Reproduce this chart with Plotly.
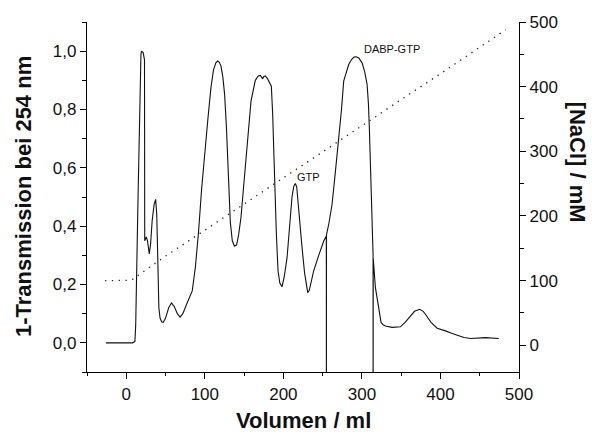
import plotly.graph_objects as go

# UV trace (1-Transmission at 254 nm) vs volume
volume = [-26, 8, 11, 12, 15, 18, 18.7, 19.5, 21.5, 23.2, 23.5, 25.5, 27, 29.3, 31, 33, 35.5, 37.4,
          38.8, 40, 41.5, 43, 45, 47, 50, 54, 57.5, 61, 65, 68.5, 72, 78, 84, 88, 92, 96, 100,
          104, 107.8, 111, 114, 116.3, 118.5, 120.6, 123, 125.2, 127.5, 130.4, 132.5, 135, 137.6,
          140.5, 143, 146, 150, 153.7, 158.8, 164.3, 168, 170.7, 172.5, 173.7, 175, 177, 180, 183,
          184.7, 186.4, 188.5, 189.6, 189.8, 190.1, 191, 193.2, 195.5, 198.3, 201, 204.7, 208, 211,
          213.3, 215.3, 217, 218.2, 220, 221, 223.8, 227, 229.5, 231, 233, 235.5, 238.6, 245, 251.4,
          254.7, 254.8, 254.9, 258, 262, 266, 270.5, 274, 276.8, 280, 283.2, 287, 290, 292.6, 296,
          300.2, 303.5, 306.6, 308.3, 309.6, 311.5, 313, 314.2, 314.3, 314.4, 317.2, 320.2, 322.5,
          324.4, 327, 330, 338.4, 349, 355, 361.8, 367, 373.6, 378, 380.9, 388, 395.8, 400, 406.4,
          415, 423.3, 430, 438.2, 457.3, 474.3]
absorbance = [0.0, 0.0, 0.005, 0.06, 0.5, 0.93, 0.99, 1.0, 0.995, 0.97, 0.35, 0.363, 0.35, 0.305,
              0.34, 0.42, 0.475, 0.492, 0.44, 0.3, 0.12, 0.085, 0.072, 0.07, 0.085, 0.12, 0.137,
              0.125, 0.1, 0.088, 0.1, 0.14, 0.178, 0.26, 0.38, 0.53, 0.66, 0.77, 0.875, 0.935, 0.96,
              0.966, 0.962, 0.949, 0.91, 0.852, 0.74, 0.555, 0.412, 0.35, 0.332, 0.335, 0.37, 0.429,
              0.56, 0.692, 0.829, 0.9, 0.915, 0.917, 0.91, 0.905, 0.913, 0.915, 0.905, 0.89, 0.88,
              0.783, 0.555, 0.48, 0.43, 0.47, 0.38, 0.247, 0.205, 0.192, 0.225, 0.292, 0.4, 0.5,
              0.537, 0.546, 0.535, 0.498, 0.42, 0.41, 0.326, 0.24, 0.19, 0.172, 0.18, 0.21, 0.247,
              0.3, 0.349, 0.366, -0.3, 0.37, 0.41, 0.475, 0.58, 0.692, 0.8, 0.897, 0.93, 0.954,
              0.972, 0.98, 0.981, 0.977, 0.96, 0.93, 0.886, 0.82, 0.726, 0.55, 0.384, 0.304, -0.3,
              0.29, 0.189, 0.132, 0.09, 0.07, 0.062, 0.058, 0.053, 0.055, 0.07, 0.092, 0.108, 0.115,
              0.108, 0.098, 0.07, 0.05, 0.047, 0.041, 0.032, 0.024, 0.018, 0.015, 0.018, 0.015]

# NaCl gradient (right axis)
nacl_volume = [-27, 0, 3, 8, 50, 100, 150, 200, 250, 300, 350, 400, 450, 483]
nacl_mM = [100, 100, 100.5, 102, 138, 178, 219, 259, 299, 340, 380, 420, 461, 488]

# peak labels
label_text = ["GTP", "DABP-GTP"]
label_x = [231.8, 338.9]
label_y = [0.568, 1.009]

font_family = "Arial, Liberation Sans, sans-serif"

fig = go.Figure()
fig.add_trace(go.Scatter(x=volume, y=absorbance, mode="lines",
                         line=dict(color="#111111", width=1.1), showlegend=False))
fig.add_trace(go.Scatter(x=nacl_volume, y=nacl_mM, mode="lines", yaxis="y2",
                         line=dict(color="#222222", width=1.3, dash="1.3px,5.5px"),
                         showlegend=False))

for t, xv, yv in zip(label_text, label_x, label_y):
    fig.add_annotation(x=xv, y=yv, text=t, showarrow=False,
                       font=dict(size=11, color="#111111", family=font_family),
                       xanchor="center", yanchor="middle")

axis_common = dict(showline=True, linecolor="black", linewidth=1.3, ticks="outside",
                   ticklen=6, tickwidth=1.2, tickcolor="black", showgrid=False,
                   zeroline=False, tickfont=dict(size=17, color="#111111", family=font_family))

fig.update_layout(
    width=592, height=434,
    margin=dict(l=87, r=73, t=22, b=62),
    paper_bgcolor="white", plot_bgcolor="white",
    separators=",.",
    xaxis=dict(range=[-50, 500], tick0=0, dtick=100, **axis_common,
               minor=dict(dtick=50, ticklen=3, tickcolor="black", tickwidth=1.2,
                          ticks="outside")),
    yaxis=dict(range=[-0.1, 1.1], tick0=0, dtick=0.2, tickformat=".1f", **axis_common,
               minor=dict(dtick=0.1, tick0=0, ticklen=4, tickcolor="black", tickwidth=1.2,
                          ticks="outside")),
    yaxis2=dict(range=[-41.3, 500], tick0=0, dtick=100, overlaying="y", side="right",
                **axis_common,
                minor=dict(dtick=50, tick0=0, ticklen=4, tickcolor="black", tickwidth=1.2,
                           ticks="outside")),
)

title_font = dict(size=22, color="#111111", family=font_family)
fig.add_annotation(xref="paper", yref="paper", x=0.5, y=0, yshift=-48,
                   text="<b>Volumen / ml</b>", showarrow=False, font=title_font,
                   xanchor="center", yanchor="middle")
fig.add_annotation(xref="paper", yref="paper", x=0, y=0.5, xshift=-64,
                   text="<b>1-Transmission bei 254 nm</b>", showarrow=False, font=title_font,
                   textangle=-90, xanchor="center", yanchor="middle")
fig.add_annotation(xref="paper", yref="paper", x=1, y=0.601, xshift=58,
                   text="<b>[NaCl] / mM</b>", showarrow=False, font=title_font,
                   textangle=90, xanchor="center", yanchor="middle")

fig.write_html("out.html")
